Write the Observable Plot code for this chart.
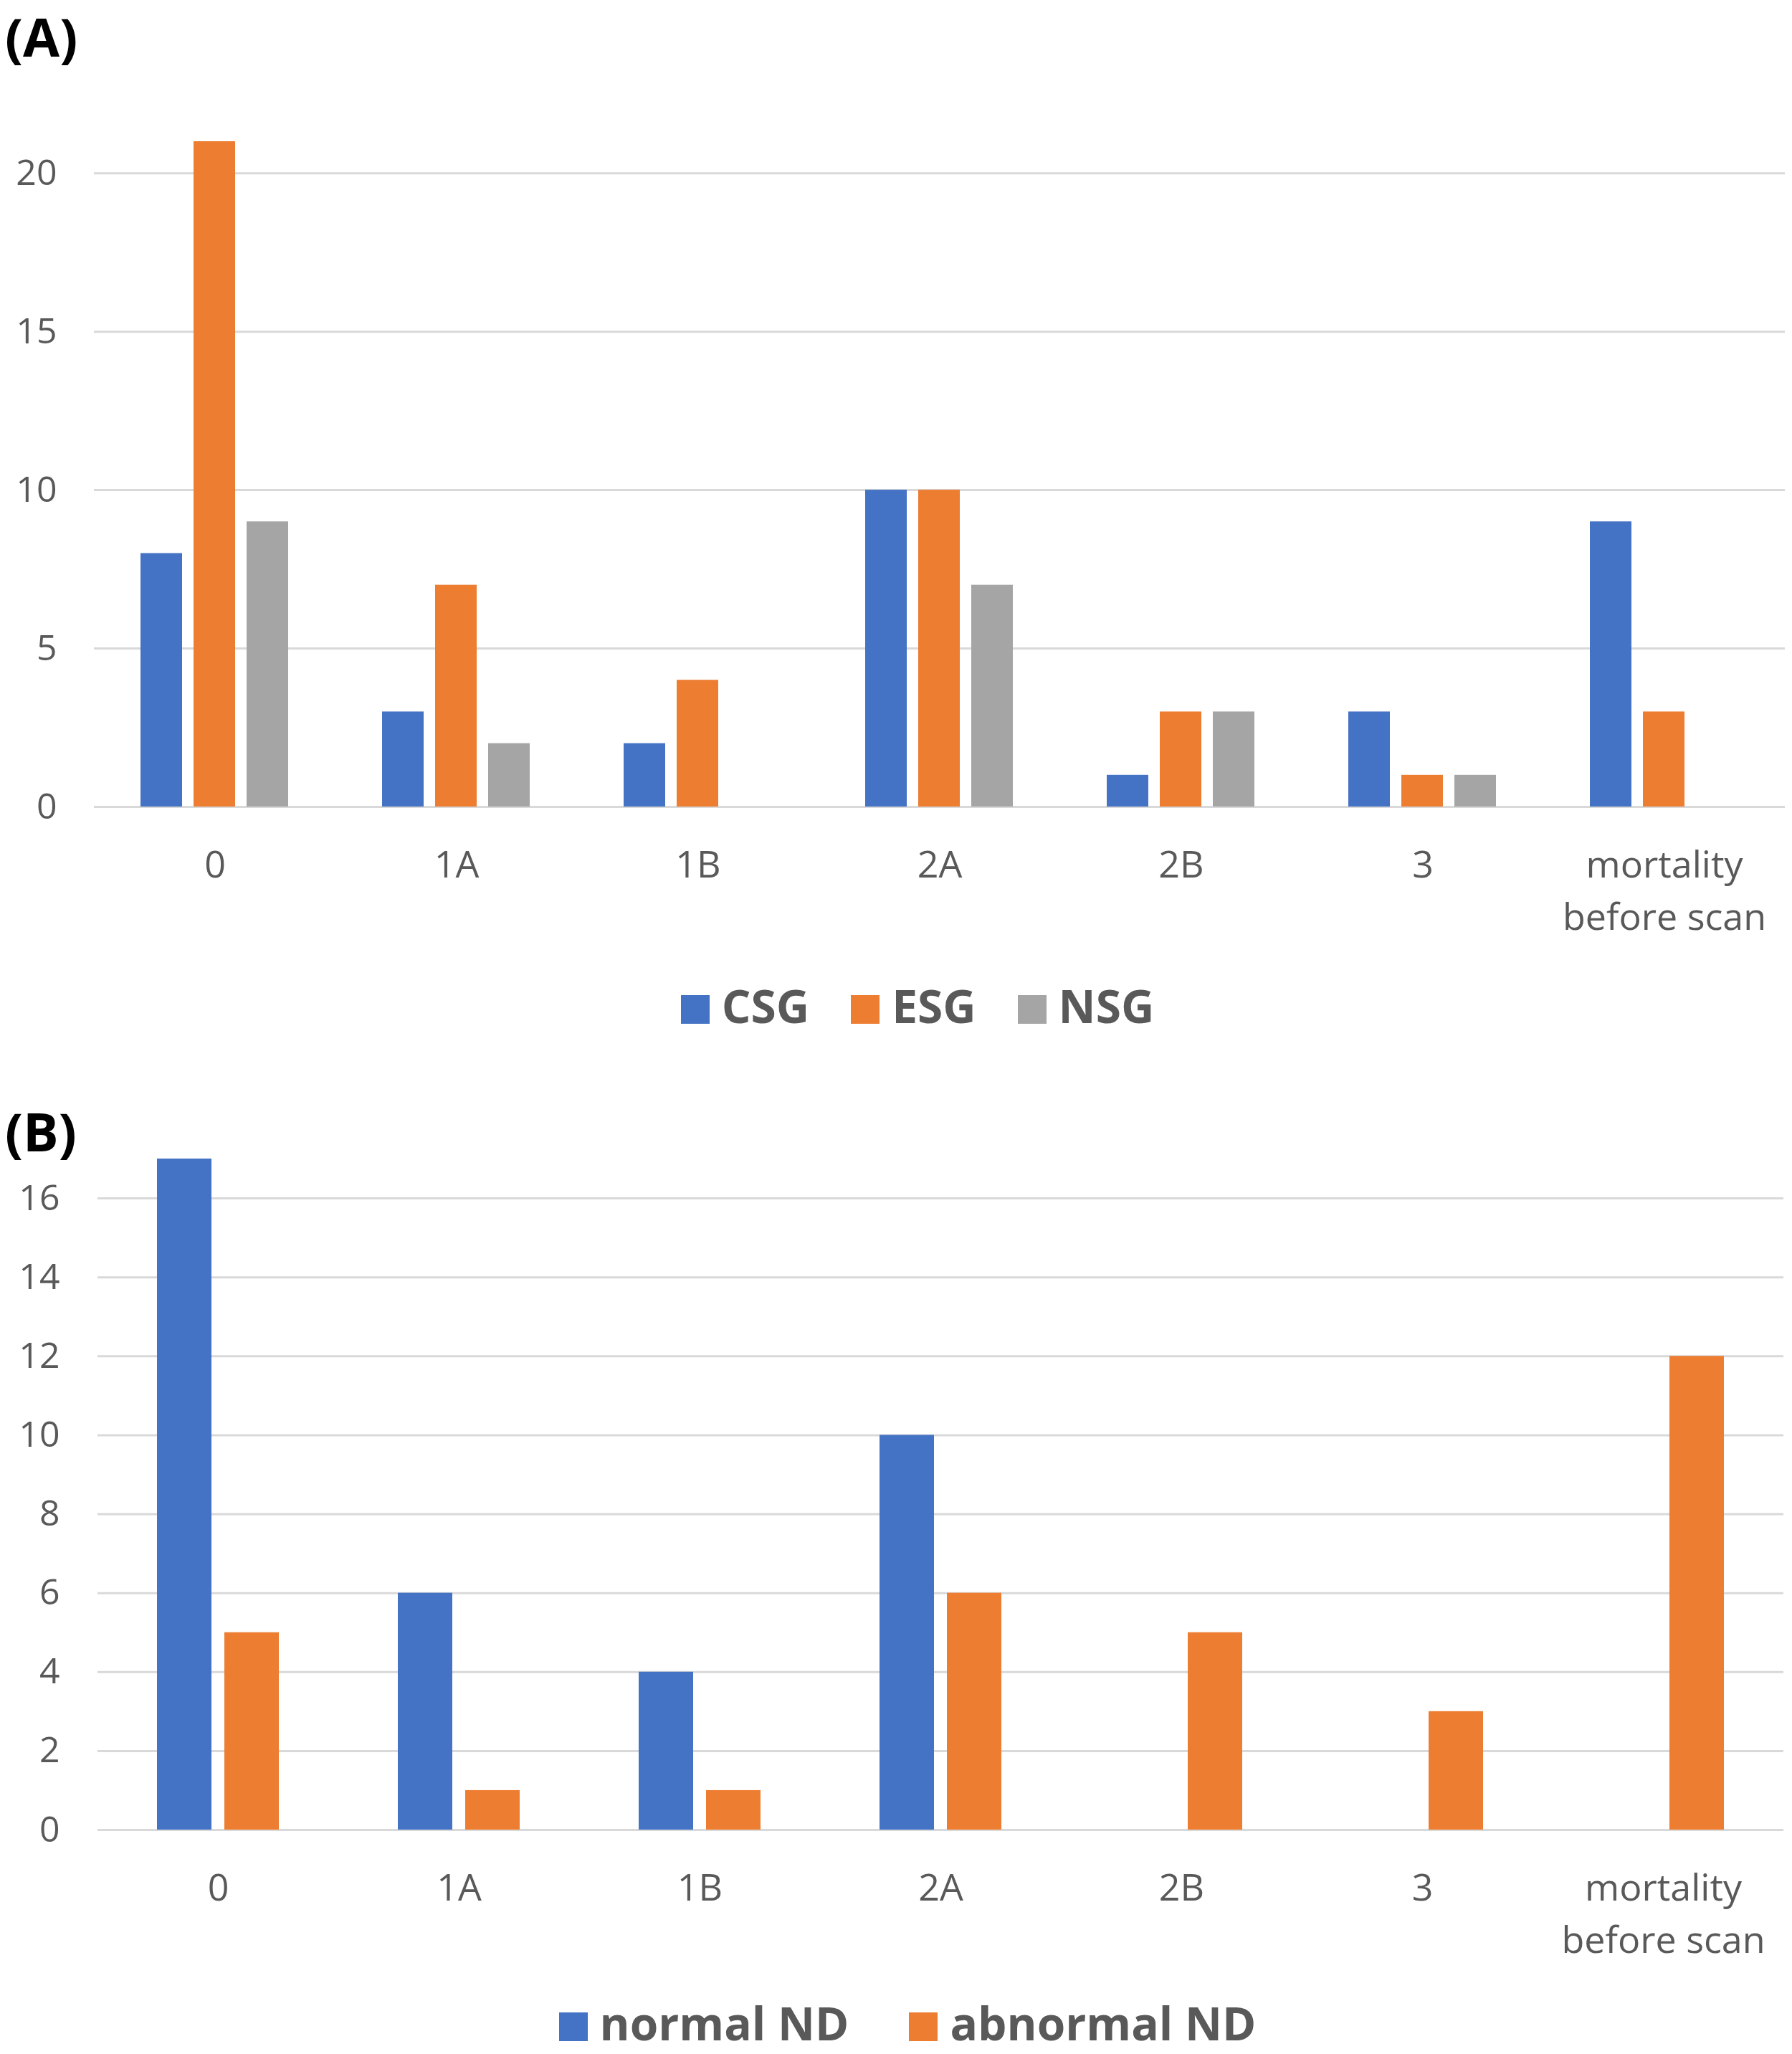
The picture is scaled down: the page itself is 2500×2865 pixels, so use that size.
<!DOCTYPE html>
<html>
<head>
<meta charset="utf-8">
<script src="https://cdn.jsdelivr.net/npm/d3@7"></script>
<script src="https://cdn.jsdelivr.net/npm/@observablehq/plot@0.6"></script>
<style>
  html, body { margin: 0; padding: 0; background: #fff; }
  #root { position: relative; width: 2500px; height: 2865px; background: #fff; overflow: hidden; font-family: "Open Sans", sans-serif; }
  .panel { position: absolute; left: 7px; font-weight: 700; font-size: 74px; line-height: normal; color: #000; }
  .legend { position: absolute; left: 0; width: 2500px; display: flex; justify-content: center; align-items: flex-start;
            font-weight: 700; font-size: 64px; line-height: 1; color: #595959; }
  .legend .item { display: flex; align-items: flex-start; }
  .legend .sw { width: 40px; height: 40px; margin-right: 17px; }
  .chart { position: absolute; left: 0; }
</style>
</head>
<body>
<div id="root"></div>
<script>
// ---- data ----
const categories = ["0", "1A", "1B", "2A", "2B", "3", "mortality before scan"];
const categoryLabels = ["0", "1A", "1B", "2A", "2B", "3", "mortality\nbefore scan"];

const seriesA = ["CSG", "ESG", "NSG"];
const colorsA = ["#4472C4", "#ED7D31", "#A5A5A5"];
const csg = [8, 3, 2, 10, 1, 3, 9];
const esg = [21, 7, 4, 10, 3, 1, 3];
const nsg = [9, 2, 0, 7, 3, 1, 0];
const ticksA = [0, 5, 10, 15, 20];

const seriesB = ["normal ND", "abnormal ND"];
const colorsB = ["#4472C4", "#ED7D31"];
const normalND = [17, 6, 4, 10, 0, 0, 0];
const abnormalND = [5, 1, 1, 6, 5, 3, 12];
const ticksB = [0, 2, 4, 6, 8, 10, 12, 14, 16];

// ---- build tables ----
function table(series, valueArrays) {
  const rows = [];
  categories.forEach((c, i) => {
    series.forEach((s, j) => rows.push({cat: c, series: s, value: valueArrays[j][i]}));
  });
  return rows;
}
const dataA = table(seriesA, [csg, esg, nsg]);
const dataB = table(seriesB, [normalND, abnormalND]);
const labelOf = new Map(categories.map((c, i) => [c, categoryLabels[i]]));

function makeChart({data, series, colors, ticks, yMax, height, marginTop, marginBottom, marginLeft, marginRight, paddingInner, tickPadY, tickPadX}) {
  return Plot.plot({
    width: 2500,
    height,
    marginTop, marginBottom, marginLeft, marginRight,
    style: {fontFamily: "'Open Sans', sans-serif", fontSize: "50px", color: "#595959", background: "transparent", overflow: "visible"},
    fx: {domain: categories, padding: 0, label: null},
    x: {domain: series, paddingInner, paddingOuter: 0.87, axis: null},
    y: {domain: [0, yMax], label: null},
    color: {domain: series, range: colors},
    marks: [
      Plot.gridY(ticks, {stroke: "#D9D9D9", strokeOpacity: 1, strokeWidth: 3}),
      Plot.barY(data, {fx: "cat", x: "series", y: "value", fill: "series"}),
      Plot.axisY(ticks, {tickSize: 0, tickPadding: tickPadY, fontSize: 50, tickFormat: d => String(d)}),
      Plot.axisFx({anchor: "bottom", tickSize: 0, tickPadding: tickPadX, fontSize: 52, lineHeight: 1.4, tickFormat: d => labelOf.get(d)})
    ]
  });
}

const root = document.getElementById("root");

function addPanel(text, top) {
  const d = document.createElement("div");
  d.className = "panel";
  d.style.top = top + "px";
  d.textContent = text;
  root.appendChild(d);
}
function addLegend(series, colors, top, shift, gap) {
  const d = document.createElement("div");
  d.className = "legend";
  d.style.top = top + "px";
  d.style.paddingLeft = shift + "px";
  d.style.boxSizing = "border-box";
  d.style.gap = gap + "px";
  series.forEach((s, i) => {
    const it = document.createElement("div");
    it.className = "item";
    const sw = document.createElement("div");
    sw.className = "sw";
    sw.style.background = colors[i];
    sw.style.marginTop = "17px";
    const t = document.createElement("span");
    t.textContent = s;
    it.appendChild(sw); it.appendChild(t);
    d.appendChild(it);
  });
  root.appendChild(d);
}
function addChart(svg, top) {
  const w = document.createElement("div");
  w.className = "chart";
  w.style.top = top + "px";
  w.appendChild(svg);
  root.appendChild(w);
}

// Chart A
addChart(makeChart({
  data: dataA, series: seriesA, colors: colorsA, ticks: ticksA, yMax: 21,
  height: 1330, marginTop: 197, marginBottom: 205, marginLeft: 128, marginRight: 8,
  paddingInner: 0.21, tickPadY: 52, tickPadX: 47
}), 0);
addPanel("(A)", 0);
addLegend(seriesA, colorsA, 1371, 60, 58);

// Chart B
addChart(makeChart({
  data: dataB, series: seriesB, colors: colorsB, ticks: ticksB, yMax: 17,
  height: 1250, marginTop: 116, marginBottom: 198, marginLeft: 133, marginRight: 9,
  paddingInner: 0.19, tickPadY: 53, tickPadX: 47
}), 1500);
addPanel("(B)", 1527);
addLegend(seriesB, colorsB, 2790, 32, 84);
</script>
</body>
</html>
